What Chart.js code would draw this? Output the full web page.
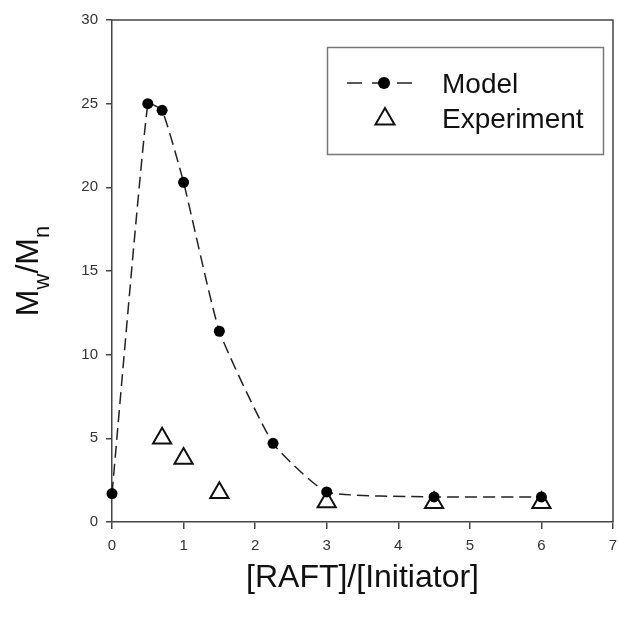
<!DOCTYPE html>
<html><head><meta charset="utf-8">
<script src="https://cdn.jsdelivr.net/npm/chart.js@4/dist/chart.umd.min.js"></script>
<style>html,body{margin:0;padding:0;background:#fff}canvas{display:block}</style>
</head><body>
<canvas id="c" width="618" height="617"></canvas>
<script>
// ---- data ----
const modelX = [0, 0.5, 0.7, 1, 1.5, 2.25, 3, 4.5, 6];
const modelY = [1.7, 25.0, 24.6, 20.3, 11.4, 4.7, 1.8, 1.5, 1.5];
const expX = [0.7, 1, 1.5, 3, 4.5, 6];
const expY = [5.0, 3.8, 1.75, 1.2, 1.15, 1.15];
const xTicks = [0, 1, 2, 3, 4, 5, 6, 7];
const yTicks = [0, 5, 10, 15, 20, 25, 30];
const seriesNames = ['Model', 'Experiment'];
const xTitle = '[RAFT]/[Initiator]';
const yTitleParts = [['M', false], ['w', true], ['/M', false], ['n', true]];

const FONT = "'Liberation Sans', Arial, sans-serif";
const AXIS = '#444';

const decor = {
  id: 'decor',
  afterDraw(chart) {
    const ctx = chart.ctx, a = chart.chartArea;
    ctx.save();
    ctx.strokeStyle = AXIS; ctx.lineWidth = 1.5;
    ctx.beginPath();
    ctx.moveTo(a.left, a.top); ctx.lineTo(a.right, a.top); ctx.lineTo(a.right, a.bottom);
    ctx.stroke();

    ctx.fillStyle = '#111';
    ctx.font = '32px ' + FONT;
    ctx.textAlign = 'center'; ctx.textBaseline = 'alphabetic';
    ctx.fillText(xTitle, (a.left + a.right) / 2, 587);

    ctx.save();
    ctx.translate(38, (a.top + a.bottom) / 2);
    ctx.rotate(-Math.PI / 2);
    ctx.textAlign = 'left';
    let w = 0;
    yTitleParts.forEach(([t, sub]) => { ctx.font = (sub ? '22px ' : '32px ') + FONT; w += ctx.measureText(t).width; });
    let x = -w / 2;
    yTitleParts.forEach(([t, sub]) => {
      ctx.font = (sub ? '22px ' : '32px ') + FONT;
      ctx.fillText(t, x, sub ? 11 : 0);
      x += ctx.measureText(t).width;
    });
    ctx.restore();

    ctx.strokeStyle = '#777'; ctx.lineWidth = 1.5;
    ctx.strokeRect(327.5, 47.5, 276, 107);
    ctx.strokeStyle = '#222'; ctx.lineWidth = 1.5;
    ctx.setLineDash([15, 10]);
    ctx.beginPath(); ctx.moveTo(347, 83); ctx.lineTo(415, 83); ctx.stroke();
    ctx.setLineDash([]);
    ctx.fillStyle = '#000';
    ctx.beginPath(); ctx.arc(384, 83, 6, 0, Math.PI * 2); ctx.fill();
    const r = 11, cx = 385, cy = 119;
    ctx.beginPath();
    for (let i = 0; i < 3; i++) {
      const ang = i * 2 * Math.PI / 3;
      const px = cx + Math.sin(ang) * r, py = cy - Math.cos(ang) * r;
      i ? ctx.lineTo(px, py) : ctx.moveTo(px, py);
    }
    ctx.closePath(); ctx.lineWidth = 2; ctx.strokeStyle = '#111'; ctx.stroke();
    ctx.fillStyle = '#111';
    ctx.font = '28px ' + FONT; ctx.textAlign = 'left';
    ctx.fillText(seriesNames[0], 442, 93);
    ctx.fillText(seriesNames[1], 442, 128);
    ctx.restore();
  }
};

new Chart(document.getElementById('c'), {
  type: 'scatter',
  data: {
    datasets: [
      {
        label: seriesNames[0],
        data: modelX.map((x, i) => ({ x, y: modelY[i] })),
        showLine: true,
        borderColor: '#222',
        borderWidth: 1.5,
        borderDash: [12, 6],
        tension: 0.15,
        clip: false,
        pointStyle: 'circle',
        pointRadius: 5.5,
        pointBackgroundColor: '#000',
        pointBorderColor: '#000',
        pointBorderWidth: 0
      },
      {
        label: seriesNames[1],
        data: expX.map((x, i) => ({ x, y: expY[i] })),
        showLine: false,
        clip: false,
        pointStyle: 'triangle',
        pointRadius: 10.5,
        pointBackgroundColor: 'rgba(255,255,255,0)',
        pointBorderColor: '#111',
        pointBorderWidth: 2
      }
    ]
  },
  options: {
    responsive: false,
    animation: false,
    layout: { autoPadding: false, padding: { top: 20, right: 5, left: 0, bottom: 0 } },
    plugins: { legend: { display: false }, tooltip: { enabled: false } },
    scales: {
      x: {
        type: 'linear', min: 0, max: 7,
        afterBuildTicks: s => { s.ticks = xTicks.map(v => ({ value: v })); },
        afterFit: s => { s.height = 95; s.paddingLeft = 0; s.paddingRight = 0; },
        grid: { drawOnChartArea: false, drawTicks: true, tickLength: 7, color: AXIS, lineWidth: 1.5 },
        border: { display: true, color: AXIS, width: 1.5 },
        ticks: { font: { size: 15, family: FONT }, color: '#333', padding: 8, maxRotation: 0 }
      },
      y: {
        type: 'linear', min: 0, max: 30,
        afterBuildTicks: s => { s.ticks = yTicks.map(v => ({ value: v })); },
        afterFit: s => { s.width = 112; s.paddingTop = 0; s.paddingBottom = 0; },
        grid: { drawOnChartArea: false, drawTicks: true, tickLength: 6, color: AXIS, lineWidth: 1.5 },
        border: { display: true, color: AXIS, width: 1.5 },
        ticks: { font: { size: 15, family: FONT }, color: '#333', padding: 8 }
      }
    }
  },
  plugins: [decor]
});
</script>
</body></html>
